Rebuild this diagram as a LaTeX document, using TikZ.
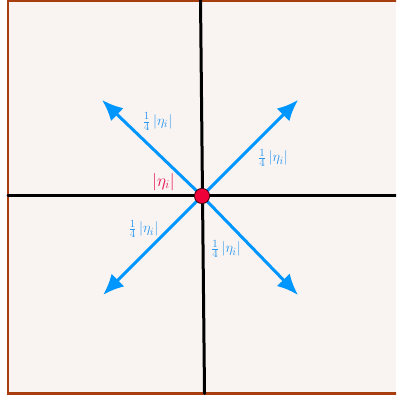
\documentclass[tikz,border=0pt]{standalone}
\usepackage{tkz-euclide}
\usetikzlibrary{arrows.meta}
\definecolor{FrameClr}{rgb}{0.66,0.24,0.05}
\definecolor{BackClr}{rgb}{0.976,0.957,0.945}
\definecolor{FluxClr}{rgb}{0,0.59,1}
\definecolor{FluxTxtClr}{rgb}{0.16,0.59,0.94}
\definecolor{NodeClr}{rgb}{0.94,0,0.22}
\definecolor{NodeTxtClr}{rgb}{0.9,0.08,0.32}

\begin{document}
\begin{tikzpicture}[scale=0.0351459804,
  flux label/.style={inner sep=0pt,text=FluxTxtClr,font=\fontsize{15}{18}\selectfont}]
\useasboundingbox (0,0) rectangle (396,401);
\clip (0,0) rectangle (396,401);
\tkzSetUpLine[line width=3pt,color=black]

% frame, open on the right
\fill[BackClr] (8,7.5) rectangle (430,400);
\draw[line width=2.2pt,color=FrameClr] (430,400) -- (8,400) -- (8,7.5) -- (430,7.5);

\tkzDefPoints{200.5/401/T,204.5/7.5/B,8/205/L,396/205/R}
\tkzDefPoints{202/205/O}
\tkzDefPoints{102/301/P1,298/301/P2,103/106/P3,298/106/P4}
\tkzDefPoints{163.5/219/E,157.5/279.5/Q1,273/243/Q2,143.5/172/Q3,226/152/Q4}

\tkzDrawSegments(T,B L,R)

\tkzDrawSegments[color=FluxClr,line width=3pt,-{Latex[length=21pt,width=18pt]}](O,P1 O,P2 O,P3 O,P4)

\filldraw[fill=NodeClr,draw=black!75!NodeClr,line width=0.8pt] (O) circle[radius=7.6];

\node[inner sep=0pt,text=NodeTxtClr,font=\fontsize{18}{22}\selectfont] (eta) at (E) {$|\eta_i|$};
\node[flux label] (fluxNW) at (Q1) {$\frac{1}{4}\,|\eta_i|$};
\node[flux label] (fluxNE) at (Q2) {$\frac{1}{4}\,|\eta_i|$};
\node[flux label] (fluxSW) at (Q3) {$\frac{1}{4}\,|\eta_i|$};
\node[flux label] (fluxSE) at (Q4) {$\frac{1}{4}\,|\eta_i|$};

\end{tikzpicture}
\end{document}
